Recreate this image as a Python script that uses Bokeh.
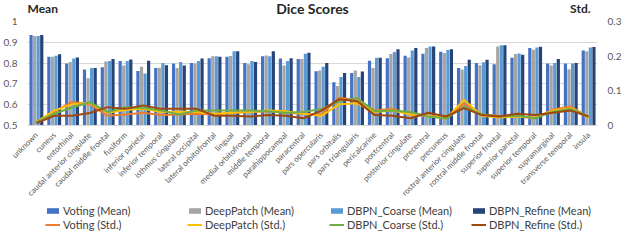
from bokeh.plotting import figure
from bokeh.layouts import column
from bokeh.models import (FactorRange, Range1d, LinearAxis, Legend, LegendItem,
                          Label, FixedTicker, ColumnDataSource)
from bokeh.transform import dodge
from bokeh.embed import file_html
from bokeh.resources import INLINE

categories = ["unknown", "cuneus", "entorhinal", "caudal anterior cingulate",
              "caudal middle frontal", "fusiform", "inferior parietal",
              "inferior temporal", "isthmus cingulate", "lateral occipital",
              "lateral orbitofrontal", "lingual", "medial orbitofrontal",
              "middle temporal", "parahippocampal", "paracentral",
              "pars opercularis", "pars orbitalis", "pars triangularis",
              "pericalcarine", "postcentral", "posterior cingulate",
              "precentral", "precuneus", "rostral anterior cingulate",
              "rostral middle frontal", "superior frontal", "superior parietal",
              "superior temporal", "supramarginal", "transverse temporal", "insula"]

voting_mean = [0.935, 0.831, 0.798, 0.769, 0.780, 0.810, 0.762, 0.777, 0.798, 0.800,
               0.823, 0.830, 0.800, 0.833, 0.822, 0.820, 0.761, 0.708, 0.752, 0.811,
               0.823, 0.835, 0.845, 0.854, 0.777, 0.800, 0.795, 0.826, 0.872, 0.798,
               0.798, 0.860]
deeppatch_mean = [0.930, 0.830, 0.805, 0.727, 0.808, 0.788, 0.783, 0.778, 0.776, 0.798,
                  0.833, 0.834, 0.795, 0.836, 0.789, 0.820, 0.765, 0.690, 0.764, 0.776,
                  0.844, 0.827, 0.872, 0.848, 0.769, 0.790, 0.880, 0.844, 0.864, 0.788,
                  0.770, 0.857]
coarse_mean = [0.930, 0.835, 0.822, 0.777, 0.810, 0.810, 0.750, 0.800, 0.805, 0.810,
               0.833, 0.857, 0.810, 0.833, 0.810, 0.845, 0.783, 0.733, 0.733, 0.826,
               0.853, 0.860, 0.880, 0.863, 0.786, 0.804, 0.886, 0.846, 0.875, 0.800,
               0.798, 0.875]
refine_mean = [0.935, 0.842, 0.827, 0.777, 0.820, 0.817, 0.811, 0.790, 0.789, 0.822,
               0.830, 0.857, 0.805, 0.857, 0.823, 0.850, 0.800, 0.752, 0.760, 0.826,
               0.867, 0.873, 0.880, 0.866, 0.816, 0.816, 0.886, 0.840, 0.879, 0.820,
               0.800, 0.877]

voting_std = [0.010, 0.039, 0.068, 0.061, 0.028, 0.032, 0.037, 0.030, 0.032, 0.034,
              0.032, 0.037, 0.039, 0.041, 0.037, 0.034, 0.032, 0.080, 0.073, 0.043,
              0.048, 0.032, 0.028, 0.023, 0.063, 0.032, 0.028, 0.026, 0.021, 0.046,
              0.055, 0.023]
deeppatch_std = [0.010, 0.043, 0.061, 0.065, 0.037, 0.045, 0.048, 0.039, 0.040, 0.039,
                 0.034, 0.037, 0.039, 0.043, 0.041, 0.034, 0.028, 0.061, 0.064, 0.039,
                 0.043, 0.032, 0.028, 0.020, 0.074, 0.028, 0.023, 0.026, 0.023, 0.043,
                 0.050, 0.023]
coarse_std = [0.010, 0.034, 0.052, 0.067, 0.039, 0.052, 0.051, 0.043, 0.032, 0.043,
              0.043, 0.043, 0.043, 0.041, 0.037, 0.039, 0.048, 0.070, 0.079, 0.041,
              0.043, 0.039, 0.026, 0.020, 0.054, 0.032, 0.026, 0.028, 0.021, 0.040,
              0.048, 0.026]
refine_std = [0.007, 0.028, 0.028, 0.036, 0.053, 0.048, 0.058, 0.048, 0.048, 0.048,
              0.028, 0.028, 0.026, 0.030, 0.028, 0.021, 0.043, 0.076, 0.070, 0.030,
              0.028, 0.021, 0.037, 0.026, 0.050, 0.030, 0.026, 0.034, 0.030, 0.037,
              0.043, 0.026]

mean_ticks = [0.5, 0.6, 0.7, 0.8, 0.9, 1.0]
mean_tick_labels = ["0.5", "0.6", "0.7", "0.8", "0.9", "1"]
std_ticks = [0.0, 0.1, 0.2, 0.3]
std_tick_labels = ["0", "0.1", "0.2", "0.3"]

mean_names = ["Voting (Mean)", "DeepPatch (Mean)", "DBPN_Coarse (Mean)", "DBPN_Refine (Mean)"]
std_names = ["Voting (Std.)", "DeepPatch (Std.)", "DBPN_Coarse (Std.)", "DBPN_Refine (Std.)"]

bar_colors = ["#4472C4", "#A5A5A5", "#5B9BD5", "#264478"]
line_colors = ["#ED7D31", "#FFC000", "#70AD47", "#9E480E"]

FONT = "Lato"
TXT = "#595959"
DARK = "#262626"
W = 624

# ---- header strip with the title texts ----
hdr = figure(width=W, height=16, x_range=Range1d(0, W), y_range=Range1d(0, 16),
             output_backend="svg", toolbar_location=None,
             min_border_left=0, min_border_right=0, min_border_top=0,
             min_border_bottom=0)
hdr.axis.visible = False
hdr.grid.visible = False
hdr.outline_line_color = None
hdr.add_layout(Label(x=312, y=8, text="Dice Scores", text_align="center",
                     text_baseline="middle", text_font=FONT, text_font_size="14px",
                     text_font_style="bold", text_color=DARK))
hdr.add_layout(Label(x=0, y=8, text="Mean", text_align="left",
                     text_baseline="middle", text_font=FONT, text_font_size="12px",
                     text_font_style="bold", text_color=DARK))
hdr.add_layout(Label(x=594, y=8, text="Std.", text_align="left",
                     text_baseline="middle", text_font=FONT, text_font_size="12px",
                     text_font_style="bold", text_color=DARK))

# ---- main chart ----
src = ColumnDataSource(dict(cat=categories, vm=voting_mean, dm=deeppatch_mean,
                            cm=coarse_mean, rm=refine_mean, vs=voting_std,
                            ds=deeppatch_std, cs=coarse_std, rs=refine_std))

p = figure(x_range=FactorRange(factors=categories, range_padding=0),
           y_range=Range1d(0.5, 1.0), width=W, height=188,
           output_backend="svg", toolbar_location=None,
           min_border_left=22, min_border_right=22, min_border_top=5,
           min_border_bottom=0)
p.outline_line_color = None
p.extra_y_ranges = {"std": Range1d(0, 0.3)}

bar_cols = ["vm", "dm", "cm", "rm"]
offsets = [-0.3, -0.1, 0.1, 0.3]
for col, c, off in zip(bar_cols, bar_colors, offsets):
    p.vbar(x=dodge("cat", off, range=p.x_range), top=col, bottom=0.5,
           width=0.18, source=src, fill_color=c, line_color=None)

line_cols = ["vs", "ds", "cs", "rs"]
for col, c in zip(line_cols, line_colors):
    p.line(x="cat", y=col, source=src, y_range_name="std",
           line_color=c, line_width=2)

ax = p.yaxis[0]
ax.ticker = FixedTicker(ticks=mean_ticks)
ax.major_label_overrides = dict(zip(mean_ticks, mean_tick_labels))
ax.axis_line_color = None
ax.major_tick_line_color = None
ax.minor_tick_line_color = None
ax.major_label_text_font = FONT
ax.major_label_text_font_size = "10px"
ax.major_label_text_color = TXT
ax.major_label_standoff = 4

rax = LinearAxis(y_range_name="std", ticker=FixedTicker(ticks=std_ticks),
                 major_label_overrides=dict(zip(std_ticks, std_tick_labels)))
rax.axis_line_color = None
rax.major_tick_line_color = None
rax.minor_tick_line_color = None
rax.major_label_text_font = FONT
rax.major_label_text_font_size = "10px"
rax.major_label_text_color = TXT
rax.major_label_standoff = 4
p.add_layout(rax, "right")

xa = p.xaxis[0]
xa.major_label_orientation = 0.785
xa.axis_line_color = "#D9D9D9"
xa.major_tick_line_color = None
xa.minor_tick_line_color = None
xa.major_label_text_font = FONT
xa.major_label_text_font_size = "8px"
xa.major_label_text_color = TXT
xa.major_label_standoff = 2

p.xgrid.grid_line_color = None
p.ygrid.grid_line_color = "#D9D9D9"

# ---- footer strip with the legend (key glyphs sit outside the visible range) ----
ftr = figure(width=W, height=27, x_range=Range1d(0, 1), y_range=Range1d(0, 1),
             output_backend="svg", toolbar_location=None,
             min_border_left=0, min_border_right=0, min_border_top=0,
             min_border_bottom=0)
ftr.axis.visible = False
ftr.grid.visible = False
ftr.outline_line_color = None
bar_keys = [ftr.vbar(x=[5], top=[5], bottom=[4], width=0.1, fill_color=c, line_color=None)
            for c in bar_colors]
line_keys = [ftr.line(x=[5, 6], y=[5, 5], line_color=c, line_width=2) for c in line_colors]


def make_legend(names, renderers, vy):
    return Legend(items=[LegendItem(label=n, renderers=[r]) for n, r in zip(names, renderers)],
                  orientation="horizontal", location=(18, vy),
                  border_line_color=None, background_fill_alpha=0,
                  padding=0, margin=0, spacing=0, glyph_width=15, glyph_height=7,
                  label_standoff=3, label_width=124, label_height=13,
                  label_text_font=FONT, label_text_font_size="11px",
                  label_text_color="#404040")


ftr.add_layout(make_legend(mean_names, bar_keys, 14))
ftr.add_layout(make_legend(std_names, line_keys, 0))

open("out.html", "w").write(file_html(column(hdr, p, ftr, spacing=0), INLINE))
